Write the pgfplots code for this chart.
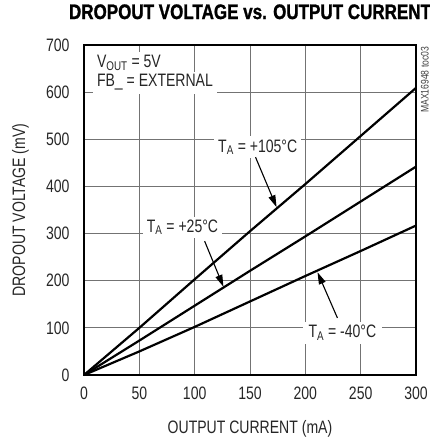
\documentclass[border=0pt]{standalone}
\usepackage{pgfplots}
\pgfplotsset{compat=1.18}
\usetikzlibrary{arrows.meta}
\usepackage{fontspec}
\setmainfont[FakeStretch=0.78]{Liberation Sans}
\newfontfamily\titlefont[FakeStretch=0.81,FakeBold=1.2]{Liberation Sans}
\begin{document}
\begin{tikzpicture}
\useasboundingbox (-84bp,-63bp) rectangle (346bp,375bp);
\begin{axis}[
  at={(0,0)}, anchor=south west,
  scale only axis,
  width=332bp, height=330bp,
  xmin=0, xmax=300, ymin=0, ymax=700,
  xtick={0,50,...,300}, ytick={0,100,...,700},
  grid=major,
  grid style={black!55, line width=0.8bp},
  major tick length=0pt,
  axis line style={line width=2bp},
  /pgf/number format/assume math mode=true,
  tick label style={font=\fontsize{18bp}{21bp}\selectfont, text=black!85},
  yticklabel style={xshift=-11bp},
  xticklabel style={yshift=-8bp},
  xlabel={OUTPUT CURRENT (mA)},
  ylabel={DROPOUT VOLTAGE (mV)},
  label style={font=\fontsize{18bp}{21bp}\selectfont, text=black!85},
  xlabel style={at={(axis description cs:0.5,0)}, anchor=base, yshift=-58bp},
  ylabel style={at={(axis description cs:-0.1777,0.5)}, anchor=base},
  title={\titlefont\bfseries DROPOUT VOLTAGE vs. OUTPUT CURRENT},
  title style={font=\fontsize{21bp}{24bp}\selectfont, at={(axis description cs:0.5,1)}, anchor=base, yshift=20bp},
  clip=false,
]
\addplot[black, line width=2.2bp] coordinates {(0,0) (50,100) (100,203) (150,305) (200,405) (250,507) (300,609)};
\addplot[black, line width=2.2bp] coordinates {(0,0) (50,73) (100,147) (150,221) (200,294) (250,368) (300,442)};
\addplot[black, line width=2.2bp] coordinates {(0,0) (50,50) (100,102) (150,156) (200,210) (250,263) (300,317)};

\tikzset{lbl/.style={fill=white, inner xsep=4bp, inner ysep=3bp, font=\fontsize{18bp}{21bp}\selectfont, text=black!85}}
\node[lbl, anchor=base west] at (axis cs:8,611) {FB\_ = EXTERNAL};
\node[lbl, anchor=base west] at (axis cs:8,653) {V\textsubscript{OUT} = 5V};
\node[lbl, anchor=base] at (axis cs:157,473) {T\textsubscript{A} = +105°C};
\node[lbl, anchor=base] at (axis cs:89,303) {T\textsubscript{A} = +25°C};
\node[lbl, anchor=base, inner xsep=6bp] at (axis cs:233.5,78.5) {T\textsubscript{A} = -40°C};
\draw[-{Triangle[length=12bp,width=7bp]}, line width=1.1bp] (axis cs:155,462) -- (axis cs:174,356);
\draw[-{Triangle[length=12bp,width=7bp]}, line width=1.1bp] (axis cs:109,284) -- (axis cs:126,187);
\draw[-{Triangle[length=12bp,width=7bp]}, line width=1.1bp] (axis cs:229,121) -- (axis cs:211,218);
\node[rotate=90, font=\fontsize{11bp}{13bp}\selectfont, text=black!75] at (axis cs:308,626) {MAX16948 toc03};
\end{axis}
\end{tikzpicture}
\end{document}
